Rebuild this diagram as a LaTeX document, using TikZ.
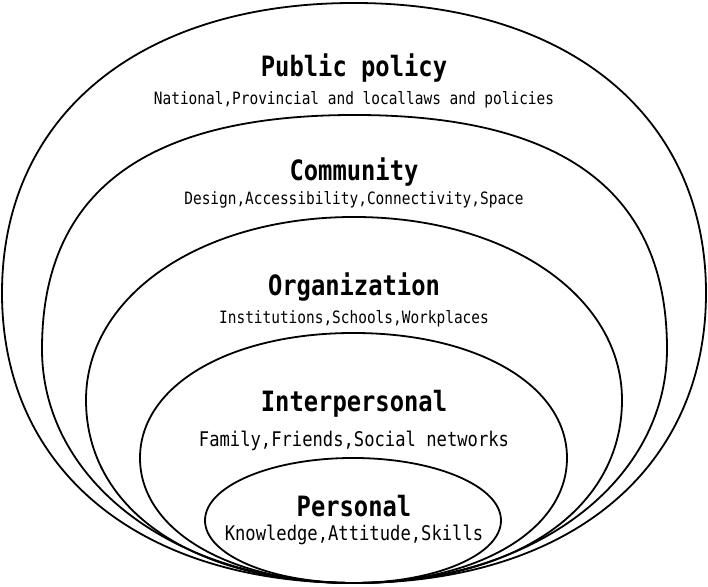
\documentclass[tikz,border=0pt]{standalone}
\usepackage{fontspec}
\newfontfamily\labelfont[FakeStretch=0.85]{DejaVu Sans Mono}
\usepackage{tikz}

\begin{document}
\begin{tikzpicture}[x=0.5pt, y=0.5pt, layer/.style={line width=0.9pt}, title/.style={font=\labelfont\bfseries\fontsize{14}{15}\selectfont}, detail/.style={font=\labelfont\fontsize{8.5}{9}\selectfont}, bigdetail/.style={font=\labelfont\fontsize{10.1}{11}\selectfont}]
    \useasboundingbox (0,0) rectangle (708,587);
    % nested rounded ovals, all touching at the bottom (kt/kb = roundness of top/bottom half)
    \foreach \cx/\cy/\rx/\ry/\kt/\kb in {354/294/352/290/0.61/0.61, 354.5/238/312.5/234/0.67/0.57, 354/187/268/183/0.57/0.6, 353.5/129/213.5/125/0.58/0.58, 353/66.5/148/62.5/0.5523/0.5523}
      \draw[layer] ({\cx-\rx},\cy) .. controls ({\cx-\rx},{\cy+\kt*\ry}) and ({\cx-\kt*\rx},{\cy+\ry}) .. (\cx,{\cy+\ry})
        .. controls ({\cx+\kt*\rx},{\cy+\ry}) and ({\cx+\rx},{\cy+\kt*\ry}) .. ({\cx+\rx},\cy)
        .. controls ({\cx+\rx},{\cy-\kb*\ry}) and ({\cx+\kb*\rx},{\cy-\ry}) .. (\cx,{\cy-\ry})
        .. controls ({\cx-\kb*\rx},{\cy-\ry}) and ({\cx-\rx},{\cy-\kb*\ry}) .. cycle;
    \node[title] (policy) at (354,519) {Public policy};
    \node[detail] (policytxt) at (354,487) {National,Provincial and locallaws and policies};
    \node[title] (community) at (354,415) {Community};
    \node[detail] (communitytxt) at (354,387) {Design,Accessibility,Connectivity,Space};
    \node[title] (organization) at (354,300) {Organization};
    \node[detail] (organizationtxt) at (354,268) {Institutions,Schools,Workplaces};
    \node[title] (interpersonal) at (354,183) {Interpersonal};
    \node[bigdetail] (interpersonaltxt) at (354,146) {Family,Friends,Social networks};
    \node[title] (personal) at (354,81) {Personal};
    \node[bigdetail] (personaltxt) at (354,52) {Knowledge,Attitude,Skills};
  \end{tikzpicture}
\end{document}
